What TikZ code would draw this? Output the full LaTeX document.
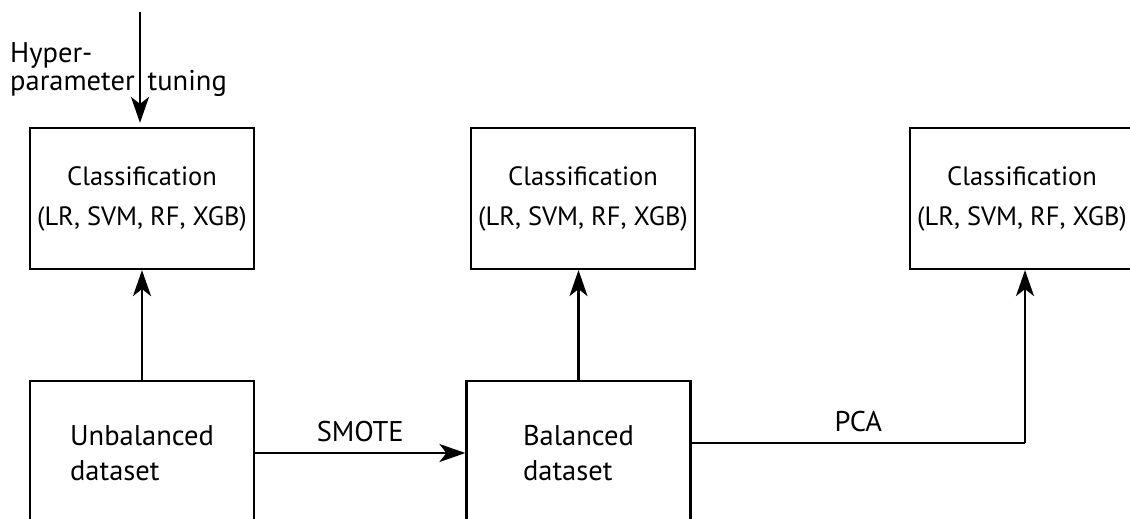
\documentclass[tikz,border=0pt]{standalone}
\usepackage{fontspec}
\setmainfont{PT Sans}
\usetikzlibrary{arrows.meta}
\tikzset{
  box/.style={draw,line width=2.2pt,minimum width=224pt,minimum height=141pt,inner sep=0pt,align=center,font=\fontsize{26.5}{40}\selectfont},
  databox/.style={box,minimum height=144pt,align=left,font=\fontsize{28.5}{35}\selectfont},
  lbl/.style={font=\fontsize{28.5}{28}\selectfont,inner sep=0pt},
  arr/.style={line width=2.2pt,-{Stealth[length=26pt,width=18pt,inset=7pt]}}
}
\begin{document}
\begin{tikzpicture}[x=1pt,y=-1pt]
\useasboundingbox (0,0) rectangle (1130,519);
\node[box] (cls1) at (142,198.5) {Classification\\(LR, SVM, RF, XGB)};
\node[box] (cls2) at (583,198.5) {Classification\\(LR, SVM, RF, XGB)};
\node[box] (cls3) at (1022,198.5) {Classification\\(LR, SVM, RF, XGB)};
\node[databox] (unbal) at (142,453) {Unbalanced\\dataset};
\node[databox] (bal) at (578.5,453) {Balanced\\dataset};
\node[lbl,align=left,anchor=north west] (hyper) at (10,42) {Hyper-\\parameter\hspace{13pt}tuning};
\coordinate (top) at (140,12);
\coordinate (bend) at (1025,443);
\draw[arr,shorten >=4pt] (top) -- (cls1.north -| top);
\draw[arr] (unbal.north) -- (unbal.north |- cls1.south);
\draw[arr] (bal.north) -- (bal.north |- cls2.south);
\draw[arr] (unbal.east) -- node[lbl,above=10pt]{SMOTE} (unbal.east -| bal.west);
\draw[line width=2.2pt] (bal.east |- bend) -- node[lbl,above=10pt]{PCA} (bend);
\draw[arr] (bend) -- (bend |- cls3.south);
\end{tikzpicture}
\end{document}
